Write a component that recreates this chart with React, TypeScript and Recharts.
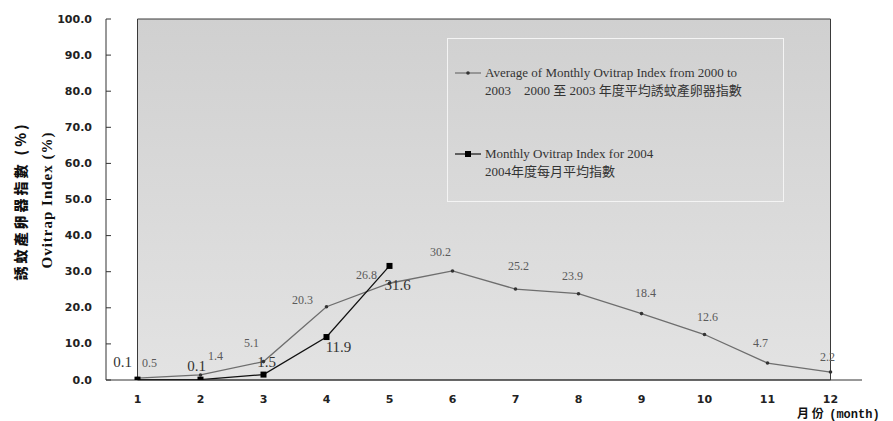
import React from 'react';
import { LineChart, Line, XAxis, YAxis, ReferenceArea, LabelList } from 'recharts';

// data
const months = ['1', '2', '3', '4', '5', '6', '7', '8', '9', '10', '11', '12'];
const avg2000to2003 = [0.5, 1.4, 5.1, 20.3, 26.8, 30.2, 25.2, 23.9, 18.4, 12.6, 4.7, 2.2];
const index2004 = [0.1, 0.1, 1.5, 11.9, 31.6];
const yTicks = [0, 10, 20, 30, 40, 50, 60, 70, 80, 90, 100];

// label nudges (dx, dy) so the numbers sit where Excel put them
const AVG_LABEL_OFFSET = [[12, -15], [15, -19], [-12, -19], [-24, -7], [-23, -8], [-12, -19], [3, -23], [-6, -18], [4, -21], [3, -18], [-7, -20], [-3, -15]];
const Y04_LABEL_OFFSET = [[-15, -18], [-4, -14], [3, -13], [12, 10], [8, 19]];

const SERIF = '"Liberation Serif", "Noto Sans CJK TC", serif';
const TICK_FONT = '"DejaVu Sans", sans-serif';

const data = months.map((m, i) => ({
  month: m,
  avg: avg2000to2003[i],
  y2004: i < index2004.length ? index2004[i] : null,
}));

function YTick({ x, y, payload }: any) {
  return (
    <g>
      <line x1={x} x2={x + 5} y1={y} y2={y} stroke="#333" />
      <text x={x - 14} y={y} textAnchor="end" dominantBaseline="central"
        style={{ fontFamily: TICK_FONT, fontSize: 11, fontWeight: 700, fill: '#222' }}>
        {Number(payload.value).toFixed(1)}
      </text>
    </g>
  );
}

function XTick({ x, y, payload }: any) {
  return (
    <text x={x} y={y + 19} textAnchor="middle" dominantBaseline="central"
      style={{ fontFamily: TICK_FONT, fontSize: 11, fontWeight: 700, fill: '#222' }}>
      {payload.value}
    </text>
  );
}

function makeLabel(offsets: number[][], size: number, color: string) {
  return (props: any) => {
    const { x, y, value, index } = props;
    if (value == null || offsets[index] == null) return null;
    const [dx, dy] = offsets[index];
    return (
      <text x={x + dx} y={y + dy} textAnchor="middle" dominantBaseline="central"
        style={{ fontFamily: SERIF, fontSize: size, fill: color }}>
        {value.toFixed(1)}
      </text>
    );
  };
}

function SquareDot({ cx, cy, value }: any) {
  if (value == null || cx == null) return null;
  return <rect x={cx - 3} y={cy - 3} width={6} height={6} fill="#000" />;
}

function SmallDot({ cx, cy }: any) {
  if (cx == null) return null;
  return <circle cx={cx} cy={cy} r={1.8} fill="#333" />;
}

function ChartLegend() {
  const textStyle: React.CSSProperties = { fontFamily: SERIF, fontSize: 13, color: '#333', lineHeight: '18px' };
  return (
    <div style={{ position: 'absolute', left: 447, top: 38, width: 337, height: 164, border: '1px solid #f4f4f4', boxSizing: 'border-box' }}>
      <svg width={26} height={10} style={{ position: 'absolute', left: 7, top: 29 }}>
        <line x1={0} x2={26} y1={5} y2={5} stroke="#6e6e6e" strokeWidth={1.2} />
        <circle cx={13} cy={5} r={1.8} fill="#333" />
      </svg>
      <div style={{ ...textStyle, position: 'absolute', left: 37, top: 25, whiteSpace: 'nowrap' }}>
        Average of Monthly Ovitrap Index from 2000 to<br />
        2003&nbsp;&nbsp;&nbsp;&nbsp;2000 至 2003 年度平均誘蚊產卵器指數
      </div>
      <svg width={26} height={10} style={{ position: 'absolute', left: 7, top: 110 }}>
        <line x1={0} x2={26} y1={5} y2={5} stroke="#111" strokeWidth={1.2} />
        <rect x={10} y={2} width={6} height={6} fill="#000" />
      </svg>
      <div style={{ ...textStyle, position: 'absolute', left: 37, top: 106, whiteSpace: 'nowrap' }}>
        Monthly Ovitrap Index for 2004<br />
        2004年度每月平均指數
      </div>
    </div>
  );
}

export default function App() {
  return (
    <div style={{ position: 'absolute', left: 0, top: 0, width: 893, height: 421, background: '#fff', overflow: 'hidden' }}>
      <LineChart width={893} height={421} data={data} margin={{ top: 19, right: 31, bottom: 11, left: 46 }}>
        <defs>
          <linearGradient id="plotBg" x1="0" y1="0" x2="0" y2="1">
            <stop offset="0%" stopColor="#d0d0d0" />
            <stop offset="100%" stopColor="#e3e3e3" />
          </linearGradient>
        </defs>
        <ReferenceArea y1={0} y2={100} fill="url(#plotBg)" fillOpacity={1} stroke="#3a3a3a" strokeWidth={1} />
        <XAxis dataKey="month" height={30} tickSize={0} tickMargin={0} tickLine={false}
          padding={{ left: 31.5, right: 31.5 }}
          axisLine={{ stroke: '#333' }} tick={<XTick />} interval={0} />
        <YAxis width={60} domain={[0, 100]} ticks={yTicks} tickSize={0} tickMargin={0} tickLine={false}
          interval={0} axisLine={{ stroke: '#333' }} tick={<YTick />} allowDataOverflow />
        <Line dataKey="avg" stroke="#6e6e6e" strokeWidth={1.3} dot={<SmallDot />} activeDot={false}
          isAnimationActive={false}>
          <LabelList dataKey="avg" content={makeLabel(AVG_LABEL_OFFSET, 12, '#5a5a5a')} />
        </Line>
        <Line dataKey="y2004" stroke="#111" strokeWidth={1.3} dot={<SquareDot />} activeDot={false}
          isAnimationActive={false}>
          <LabelList dataKey="y2004" content={makeLabel(Y04_LABEL_OFFSET, 15, '#333')} />
        </Line>
      </LineChart>
      <ChartLegend />
      <div style={{ position: 'absolute', left: 20, top: 201, transform: 'translate(-50%, -50%) rotate(-90deg)',
        whiteSpace: 'nowrap', fontFamily: '"Noto Sans CJK TC", sans-serif', fontWeight: 900, fontSize: 14, letterSpacing: 3, color: '#111' }}>
        誘蚊產卵器指數 (%)
      </div>
      <div style={{ position: 'absolute', left: 47, top: 200, transform: 'translate(-50%, -50%) rotate(-90deg)',
        whiteSpace: 'nowrap', fontFamily: SERIF, fontWeight: 700, fontSize: 15, letterSpacing: 1, color: '#111' }}>
        Ovitrap Index (%)
      </div>
      <div style={{ position: 'absolute', left: 797, top: 406, whiteSpace: 'nowrap', fontWeight: 700, fontSize: 12, color: '#111',
        fontFamily: '"Noto Sans CJK TC", sans-serif', lineHeight: '14px' }}>
        月&nbsp;份&nbsp;&nbsp;<span style={{ fontFamily: '"Liberation Mono", monospace', fontWeight: 700 }}>(month)</span>
      </div>
    </div>
  );
}
